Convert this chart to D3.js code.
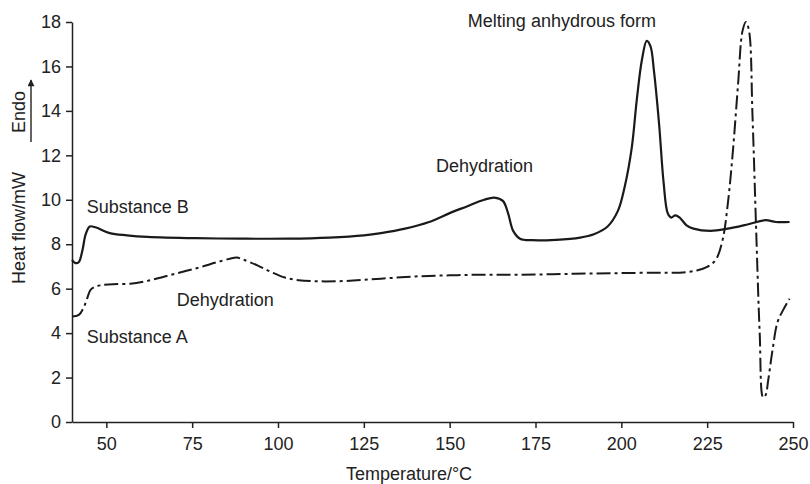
<!DOCTYPE html>
<html>
<head>
<meta charset="utf-8">
<script src="https://cdn.jsdelivr.net/npm/d3@7"></script>
<style>
  body { margin: 0; background: #fff; }
  text { font-family: "Liberation Sans", Arial, sans-serif; fill: #222; }
</style>
</head>
<body>
<svg width="810" height="484"></svg>
<script>
var width = 810;
var height = 484;

// tick values
var xTicks = [50, 75, 100, 125, 150, 175, 200, 225, 250];
var yTicks = [0, 2, 4, 6, 8, 10, 12, 14, 16, 18];

// Substance B (solid), [temperature, heat flow]
var substanceB = [
    [40, 7.3], [41, 7.15], [42, 7.2], [43, 7.7], [44, 8.45], [45.2, 8.8], [47, 8.75],
    [51, 8.5], [56, 8.4], [62, 8.33], [76, 8.27], [89, 8.25], [103, 8.25], [115, 8.3],
    [125, 8.4], [130, 8.5], [137, 8.7], [144, 9.0], [150, 9.4], [155, 9.7], [160, 10.0],
    [163, 10.1], [165.5, 9.95], [167, 9.4], [168.5, 8.6], [170.5, 8.25], [174, 8.18],
    [181, 8.2], [188, 8.3], [192, 8.45], [196, 8.8], [199, 9.5], [201, 10.6], [203, 12.3],
    [204.5, 14.5], [206, 16.3], [207.4, 17.15], [208.5, 16.9], [209.5, 15.8], [211, 13.4],
    [212.3, 10.8], [213.5, 9.4], [214.5, 9.2], [215.7, 9.3], [217, 9.2], [219, 8.85],
    [221, 8.7], [226, 8.6], [231, 8.7], [237, 8.9], [242, 9.08], [245, 9.0], [249, 9.0]
];

// Substance A (dash-dot)
var substanceA = [
    [40, 4.75], [42, 4.82], [43.4, 5.15], [44.5, 5.6], [45.4, 5.95], [47, 6.1], [48.3, 6.15],
    [52, 6.2], [57, 6.22], [62, 6.35], [67, 6.55], [72, 6.75], [77, 6.95], [82, 7.18],
    [86, 7.35], [88, 7.4], [90, 7.3], [94, 7.05], [98, 6.75], [102, 6.5], [106, 6.38],
    [112, 6.33], [120, 6.35], [130, 6.45], [140, 6.55], [150, 6.6], [160, 6.63], [170, 6.63],
    [180, 6.65], [190, 6.68], [200, 6.7], [210, 6.72], [217, 6.72], [222, 6.82], [225, 6.98],
    [227.5, 7.3], [229.5, 8.2], [231, 9.8], [232.5, 12.2], [234, 15.2], [235.3, 17.6],
    [236.3, 18.0], [237.2, 17.6], [238.2, 13.8], [239.3, 8.5], [240.3, 4.0], [241.3, 1.1],
    [242, 1.2], [242.8, 1.9], [244, 3.2], [245.5, 4.5], [247, 5.0], [249, 5.55]
];

// annotations: text, temperature, heat flow
var labels = [
    ["Substance B", 44.3, 9.4],
    ["Substance A", 44.3, 3.55],
    ["Dehydration", 70.5, 5.2],
    ["Dehydration", 146, 11.25],
    ["Melting anhydrous form", 155.3, 17.78]
];

var svg = d3.select("svg");

var x = d3.scaleLinear().domain([40, 250]).range([72, 793]);
var y = d3.scaleLinear().domain([0, 18]).range([422, 22]);

// axes
svg.append("g")
    .attr("transform", "translate(0," + y(0) + ")")
    .call(d3.axisBottom(x).tickValues(xTicks).tickSize(6).tickPadding(9).tickSizeOuter(0));

svg.append("g")
    .attr("transform", "translate(" + x(40) + ",0)")
    .call(d3.axisLeft(y).tickValues(yTicks).tickSize(6).tickPadding(5).tickSizeOuter(0));

svg.selectAll(".domain, .tick line").attr("stroke", "#222").attr("stroke-width", 1.5);
svg.selectAll(".tick text").style("font-size", "18px").attr("fill", "#222")
    .style("font-family", '"Liberation Sans", Arial, sans-serif');

// axis titles
svg.append("text")
    .attr("x", 409)
    .attr("y", 480)
    .attr("text-anchor", "middle")
    .style("font-size", "18px")
    .text("Temperature/°C");

svg.append("text")
    .attr("transform", "translate(25,228) rotate(-90)")
    .attr("text-anchor", "middle")
    .style("font-size", "18px")
    .text("Heat flow/mW");

// Endo arrow
svg.append("text")
    .attr("transform", "translate(25,112) rotate(-90)")
    .attr("text-anchor", "middle")
    .style("font-size", "18px")
    .text("Endo");

svg.append("defs").append("marker")
    .attr("id", "arrow")
    .attr("viewBox", "0 0 10 10")
    .attr("refX", 9).attr("refY", 5)
    .attr("markerWidth", 8).attr("markerHeight", 7)
    .attr("markerUnits", "userSpaceOnUse")
    .attr("orient", "auto")
    .append("path")
    .attr("d", "M0,0L10,5L0,10z")
    .attr("fill", "#222");

svg.append("line")
    .attr("x1", 31).attr("y1", 142)
    .attr("x2", 31).attr("y2", 80)
    .attr("stroke", "#222")
    .attr("stroke-width", 1.4)
    .attr("marker-end", "url(#arrow)");

// curves
var line = d3.line()
    .x(function(d) { return x(d[0]); })
    .y(function(d) { return y(d[1]); })
    .curve(d3.curveCatmullRom.alpha(0.5));

svg.append("path")
    .datum(substanceB)
    .attr("d", line)
    .attr("fill", "none")
    .attr("stroke", "#1a1a1a")
    .attr("stroke-width", 2.2);

svg.append("path")
    .datum(substanceA)
    .attr("d", line)
    .attr("fill", "none")
    .attr("stroke", "#1a1a1a")
    .attr("stroke-width", 2)
    .attr("stroke-dasharray", "14,4,3,4");

// annotations
svg.selectAll(".label")
    .data(labels)
    .enter().append("text")
    .attr("class", "label")
    .attr("x", function(d) { return x(d[1]); })
    .attr("y", function(d) { return y(d[2]); })
    .style("font-size", "18px")
    .text(function(d) { return d[0]; });
</script>
</body>
</html>
